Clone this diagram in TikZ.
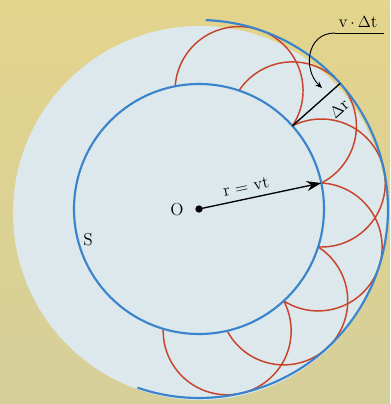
\documentclass[tikz,border=0pt]{standalone}
\usetikzlibrary{arrows.meta}
\definecolor{bgtop}{HTML}{E4D48C}
\definecolor{bgbot}{HTML}{D5CF9A}
\definecolor{disc}{HTML}{DCE8EC}
\definecolor{blu}{HTML}{3A84CC}
\definecolor{rd}{HTML}{C8432B}
\begin{document}
\begin{tikzpicture}[x=0.75pt,y=0.75pt,
  blueline/.style={draw=blu,line width=1.6pt},
  redarc/.style={draw=rd,line width=1.1pt},
  lbl/.style={font=\fontsize{13}{15}\selectfont, inner sep=0pt},
  blk/.style={draw=black,line width=1pt},
  thin/.style={draw=black,line width=0.7pt}]
\useasboundingbox (0,0) rectangle (390,404);
\shade[top color=bgtop,bottom color=bgbot] (0,0) rectangle (390,404);
\fill[disc] (200,191) circle (187);
\coordinate (O) at (199,195);
% wavelets
\foreach \t in {71.32,41.66,12,-17.66,-47.32,-76.98}{
  \draw[redarc] (O) ++(\t:125) ++(\t-104.83:64) arc[start angle=\t-104.83, end angle=\t+104.83, radius=64];
}
% wave fronts
\draw[blueline] (O) circle (125);
\draw[blueline] (O) ++(88:189) arc[start angle=88,end angle=-109,radius=189];
% delta r
\path (O) ++(41.66:125) coordinate (di);
\path (O) ++(41.66:189) coordinate (do);
\draw[blk] (di) -- (do);
\node[lbl, rotate=41.66] (dr) at (339,295) {$\Delta$r};
% radius arrow
\path (O) ++(12:125) coordinate (tip);
\node[circle, fill=black, inner sep=0pt, minimum size=5.5pt] (dot) at (O) {};
\draw[blk, -{Stealth[length=11pt,width=7.5pt]}] (dot.center) -- (tip);
\node[lbl, rotate=12] (rvt) at (246,217) {r = vt};
\node[lbl] (olbl) at (177,194) {O};
\node[lbl] (S) at (88,164) {S};
% v dt label
\node[lbl] (vdt) at (358,382) {v\,$\cdot$\,$\Delta$t};
\coordinate (ulL) at (335,371);
\coordinate (ulR) at (384,371);
\draw[thin] (ulL) -- (ulR);
\coordinate (ctip) at (322,316);
\draw[thin, -{Stealth[length=5pt,width=4pt]}] (ulL) .. controls (306,371) and (303,334) .. (ctip);
\end{tikzpicture}
\end{document}
